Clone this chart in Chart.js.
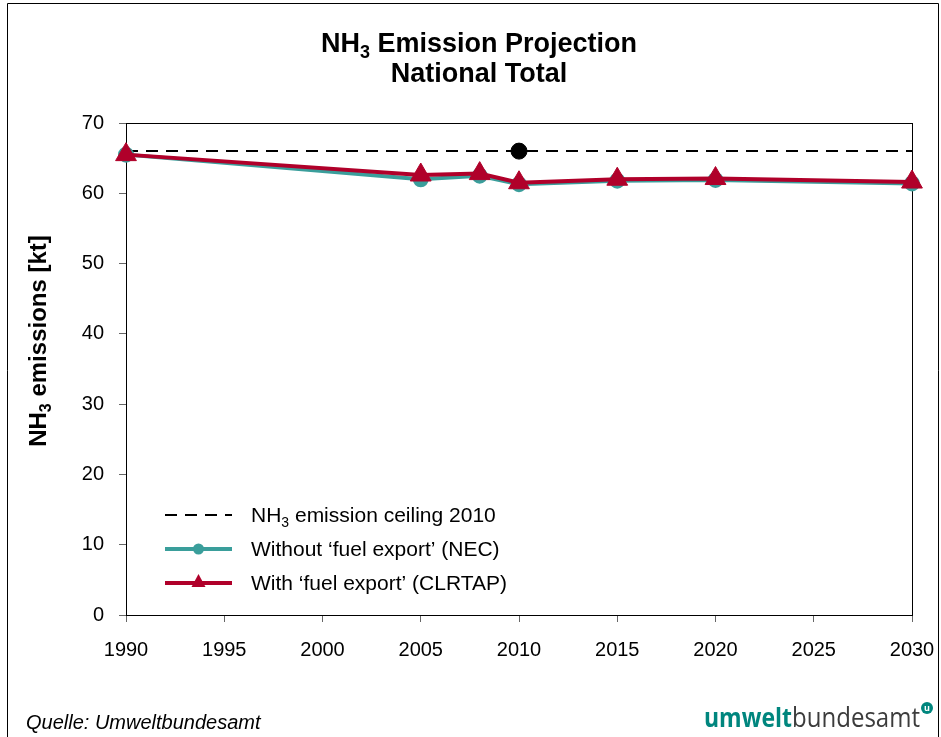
<!DOCTYPE html>
<html>
<head>
<style>
  body { margin: 0; background: #fff; }
  #wrap { position: relative; width: 941px; height: 737px; }
</style>
</head>
<body>
<script src="https://cdn.jsdelivr.net/npm/chart.js"></script>
<div id="wrap"><canvas id="canvas" width="941" height="737"></canvas></div>
<script>
  // values
  const years = [1990, 2005, 2008, 2010, 2015, 2020, 2030];
  const necValues = [65.5, 62.0, 62.5, 61.3, 61.8, 61.9, 61.4];
  const clrtapValues = [65.5, 62.6, 62.8, 61.5, 62.0, 62.1, 61.6];
  const ceilingYears = [1990, 2030];
  const ceilingValues = [66, 66];
  const ceilingMarkYear = [2010];
  const ceilingMarkValue = [66];
  const legendLabels = ["emission ceiling 2010", "Without \u2018fuel export\u2019 (NEC)", "With \u2018fuel export\u2019 (CLRTAP)"];

  const teal = "#3a9e9b";
  const red = "#b0002a";
  const arial = "'Liberation Sans', Arial, sans-serif";

  function toPoints(xs, ys) {
    return xs.map(function(x, i){ return {x: x, y: ys[i]}; });
  }

  // draws text like [["NH"], ["3", true], [" emission"]] with subscripts
  function drawParts(ctx, parts, x, y, size, family, weight, align) {
    let total = 0;
    const widths = parts.map(function(p){
      ctx.font = weight + " " + (p[1] ? Math.round(size * 0.65) : size) + "px " + family;
      const w = ctx.measureText(p[0]).width;
      total += w;
      return w;
    });
    let cx = x;
    if (align === "center") cx = x - total / 2;
    ctx.textAlign = "left";
    ctx.textBaseline = "alphabetic";
    parts.forEach(function(p, i){
      ctx.font = weight + " " + (p[1] ? Math.round(size * 0.65) : size) + "px " + family;
      ctx.fillText(p[0], cx, p[1] ? y + size * 0.22 : y);
      cx += widths[i];
    });
  }

  // text squeezed to a given width
  function fitText(ctx, text, x, y, width) {
    const w = ctx.measureText(text).width;
    ctx.save();
    ctx.translate(x, y);
    ctx.scale(width / w, 1);
    ctx.fillText(text, 0, 0);
    ctx.restore();
  }

  const decor = {
    id: "decor",
    beforeDatasetsDraw(chart) {
      const ctx = chart.ctx;
      const a = chart.chartArea;
      ctx.save();
      ctx.strokeStyle = "#000";
      ctx.lineWidth = 1;
      ctx.strokeRect(a.left + 0.5, a.top + 0.5, a.right - a.left, a.bottom - a.top);
      ctx.restore();
    },
    afterDraw(chart) {
      const ctx = chart.ctx;
      ctx.save();
      // outer frame
      ctx.strokeStyle = "#000";
      ctx.lineWidth = 1;
      ctx.beginPath();
      ctx.moveTo(7.5, 737);
      ctx.lineTo(7.5, 3.5);
      ctx.lineTo(938.5, 3.5);
      ctx.lineTo(938.5, 737);
      ctx.stroke();

      ctx.fillStyle = "#000";
      // title
      drawParts(ctx, [["NH"], ["3", true], [" Emission Projection"]], 479, 52, 27, arial, "bold", "center");
      drawParts(ctx, [["National Total"]], 479, 82, 27, arial, "bold", "center");

      // y axis title
      ctx.save();
      ctx.translate(46, 341);
      ctx.rotate(-Math.PI / 2);
      drawParts(ctx, [["NH"], ["3", true], [" emissions [kt]"]], 0, 0, 24, arial, "bold", "center");
      ctx.restore();

      // legend
      const lx0 = 165, lx1 = 232, tx = 251;
      const rows = [515, 549, 583];
      ctx.lineWidth = 2;
      ctx.strokeStyle = "#000";
      ctx.setLineDash([12, 8]);
      ctx.beginPath(); ctx.moveTo(lx0, rows[0]); ctx.lineTo(lx1, rows[0]); ctx.stroke();
      ctx.setLineDash([]);
      ctx.lineWidth = 4;
      ctx.strokeStyle = teal;
      ctx.beginPath(); ctx.moveTo(lx0, rows[1]); ctx.lineTo(lx1, rows[1]); ctx.stroke();
      ctx.fillStyle = teal;
      ctx.beginPath(); ctx.arc((lx0 + lx1) / 2, rows[1], 5.5, 0, Math.PI * 2); ctx.fill();
      ctx.strokeStyle = red;
      ctx.beginPath(); ctx.moveTo(lx0, rows[2]); ctx.lineTo(lx1, rows[2]); ctx.stroke();
      ctx.fillStyle = red;
      const mx = (lx0 + lx1) / 2;
      ctx.beginPath(); ctx.moveTo(mx, rows[2] - 9); ctx.lineTo(mx + 7, rows[2] + 4); ctx.lineTo(mx - 7, rows[2] + 4); ctx.closePath(); ctx.fill();

      ctx.fillStyle = "#000";
      drawParts(ctx, [["NH"], ["3", true], [" " + legendLabels[0]]], tx, rows[0] + 7, 21, arial, "normal", "left");
      drawParts(ctx, [[legendLabels[1]]], tx, rows[1] + 7, 21, arial, "normal", "left");
      drawParts(ctx, [[legendLabels[2]]], tx, rows[2] + 7, 21, arial, "normal", "left");

      // source
      ctx.font = "italic 20px " + arial;
      ctx.textAlign = "left";
      ctx.textBaseline = "alphabetic";
      ctx.fillText("Quelle: Umweltbundesamt", 26, 729);

      // logo text
      ctx.font = "bold 27px 'Open Sans', sans-serif";
      ctx.fillStyle = "#00867e";
      fitText(ctx, "umwelt", 704, 727, 88);
      ctx.font = "normal 27px 'Open Sans', sans-serif";
      ctx.fillStyle = "#3c3c3c";
      fitText(ctx, "bundesamt", 792, 727, 128);
      const cx = 927, cy = 708;
      ctx.fillStyle = "#00867e";
      ctx.beginPath(); ctx.arc(cx, cy, 6, 0, Math.PI * 2); ctx.fill();
      ctx.fillStyle = "#fff";
      ctx.font = "bold 9px 'Open Sans', sans-serif";
      ctx.textAlign = "center";
      ctx.textBaseline = "middle";
      ctx.fillText("u", cx, cy);
      ctx.restore();
    }
  };

  new Chart(document.getElementById("canvas"), {
    type: "line",
    data: {
      datasets: [
        {
          label: "ceiling",
          data: toPoints(ceilingYears, ceilingValues),
          borderColor: "#000",
          borderWidth: 2,
          borderDash: [12, 8],
          pointRadius: 0,
          order: 3,
          clip: false
        },
        {
          label: "ceiling mark",
          data: toPoints(ceilingMarkYear, ceilingMarkValue),
          showLine: false,
          pointRadius: 8,
          pointBackgroundColor: "#000",
          pointBorderColor: "#000",
          order: 2,
          clip: false
        },
        {
          label: legendLabels[1],
          data: toPoints(years, necValues),
          borderColor: teal,
          borderWidth: 4,
          pointRadius: 6,
          pointBackgroundColor: teal,
          pointBorderColor: teal,
          order: 1,
          clip: false
        },
        {
          label: legendLabels[2],
          data: toPoints(years, clrtapValues),
          borderColor: red,
          borderWidth: 4,
          pointStyle: "triangle",
          pointRadius: 12,
          pointBackgroundColor: red,
          pointBorderColor: red,
          pointBorderWidth: 1,
          order: 0,
          clip: false
        }
      ]
    },
    options: {
      responsive: false,
      animation: false,
      layout: { padding: { left: 0, top: 123, right: 29, bottom: 0 } },
      plugins: { legend: { display: false }, title: { display: false }, tooltip: { enabled: false } },
      scales: {
        x: {
          type: "linear",
          min: 1990,
          max: 2030,
          afterFit: function(s){ s.height = 122; s.paddingLeft = 0; s.paddingRight = 0; },
          ticks: { stepSize: 5, color: "#000", font: { family: arial, size: 20 }, padding: 16, maxRotation: 0, callback: function(v){ return String(v); } },
          grid: { drawOnChartArea: false, drawTicks: true, tickLength: 7, color: "#666" },
          border: { color: "#000", width: 1 }
        },
        y: {
          min: 0,
          max: 70,
          afterFit: function(s){ s.width = 126; s.paddingTop = 0; s.paddingBottom = 0; },
          ticks: { stepSize: 10, color: "#000", font: { family: arial, size: 20 }, padding: 15 },
          grid: { drawOnChartArea: false, drawTicks: true, tickLength: 7, color: "#666" },
          border: { color: "#000", width: 1 }
        }
      }
    },
    plugins: [decor]
  });
</script>
</body>
</html>
